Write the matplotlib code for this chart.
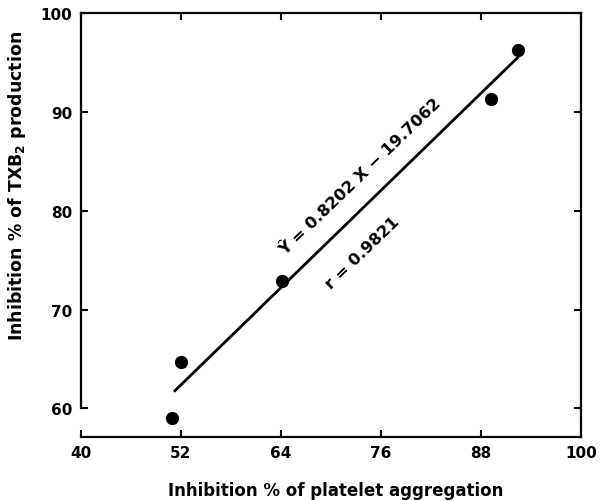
import matplotlib.pyplot as plt

# Datos
aggregation = [51.0, 52.0, 64.2, 89.2, 92.4]
txb2_inhibition = [59.0, 64.7, 72.9, 91.3, 96.3]
slope = 0.8202
intercept = 19.7062
fit_range = [51.3, 92.4]
x_ticks = [40, 52, 64, 76, 88, 100]
y_ticks = [60, 70, 80, 90, 100]

plt.rcParams['font.family'] = ['DejaVu Sans']
plt.rcParams['font.weight'] = 'bold'
plt.rcParams['mathtext.default'] = 'bf'

fig = plt.figure(figsize=(6.08, 5.02), dpi=100)
ax = fig.add_axes([0.1327, 0.1275, 0.8229, 0.8445])

ax.plot(aggregation, txb2_inhibition, 'o', color='black', markersize=8.5)
fit_y = [slope * x + intercept for x in fit_range]
ax.plot(fit_range, fit_y, color='black', linewidth=2)

ax.set_xlim(40, 100)
ax.set_ylim(57.1, 100)
ax.set_xticks(x_ticks)
ax.set_yticks(y_ticks)
ax.spines['left'].set_bounds(60, 100)
for s in ax.spines.values():
    s.set_linewidth(1.6)

ax.tick_params(direction='in', length=5, width=1.5, top=True, right=True,
               labelsize=11, pad=6)
for lab in ax.get_xticklabels() + ax.get_yticklabels():
    lab.set_fontweight('bold')

ax.set_xlabel('Inhibition % of platelet aggregation', fontsize=12,
              fontweight='bold')
ax.set_ylabel('Inhibition % of TXB$_2$ production', fontsize=12.5,
              fontweight='bold')
ax.xaxis.set_label_coords(0.51, -0.104)
ax.yaxis.set_label_coords(-0.105, 0.594)

ax.text(73.6, 83.5, 'Ŷ = 0.8202 X − 19.7062', rotation=44, fontsize=11.8,
        fontweight='bold', ha='center', va='center', rotation_mode='anchor')
ax.text(73.8, 75.8, 'r = 0.9821', rotation=44, fontsize=11.8,
        fontweight='bold', ha='center', va='center', rotation_mode='anchor')

fig.savefig('out.png', dpi=100)
